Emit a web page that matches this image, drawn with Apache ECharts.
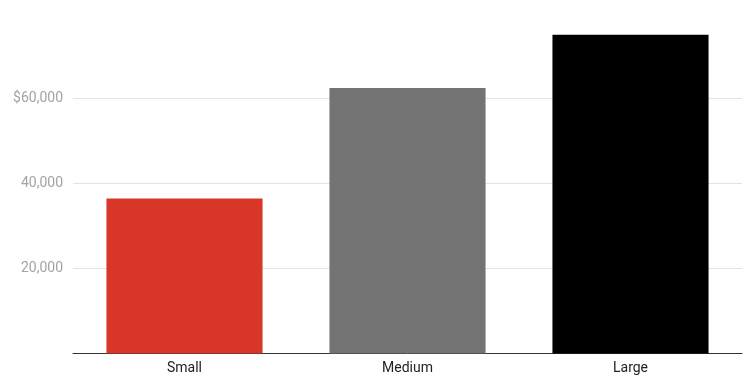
<!DOCTYPE html>
<html><head><meta charset="utf-8">
<script src="https://cdn.jsdelivr.net/npm/echarts@6/dist/echarts.min.js"></script>
<style>html,body{margin:0;padding:0;background:#fff}#c{width:754px;height:389px}</style>
</head><body><div id="c"></div>
<script>
const categories = ['Small', 'Medium', 'Large'];
const values = [36500, 62500, 75000];
const colors = ['#D9362A', '#737373', '#000000'];
const yTicks = [20000, 40000, 60000];

const chart = echarts.init(document.getElementById('c'), null, {renderer: 'canvas'});
chart.setOption({
  animation: false,
  grid: {left: 73, right: 12, top: 13.5, bottom: 35.5, containLabel: false},
  xAxis: {
    type: 'category',
    data: categories,
    axisTick: {show: false},
    axisLine: {lineStyle: {color: '#333333', width: 1}},
    axisLabel: {color: '#222222', fontSize: 14, fontFamily: 'Roboto', margin: 8}
  },
  yAxis: {
    type: 'value',
    min: 0, max: 80000, interval: 20000,
    axisLine: {show: false},
    axisTick: {show: false},
    splitLine: {show: true, showMinLine: false, showMaxLine: false, lineStyle: {color: '#e3e3e3', width: 1}},
    axisLabel: {
      color: '#a3a3a3', fontSize: 14, fontFamily: 'Roboto', margin: 10,
      showMinLabel: false, showMaxLabel: false,
      formatter: function (v) {
        if (yTicks.indexOf(v) < 0) return '';
        const s = v.toLocaleString('en-US');
        return v === yTicks[yTicks.length - 1] ? '$' + s : s;
      }
    }
  },
  series: [{
    type: 'bar',
    barWidth: '70%',
    data: values.map((v, i) => ({value: v, itemStyle: {color: colors[i]}}))
  }]
});
</script></body></html>
